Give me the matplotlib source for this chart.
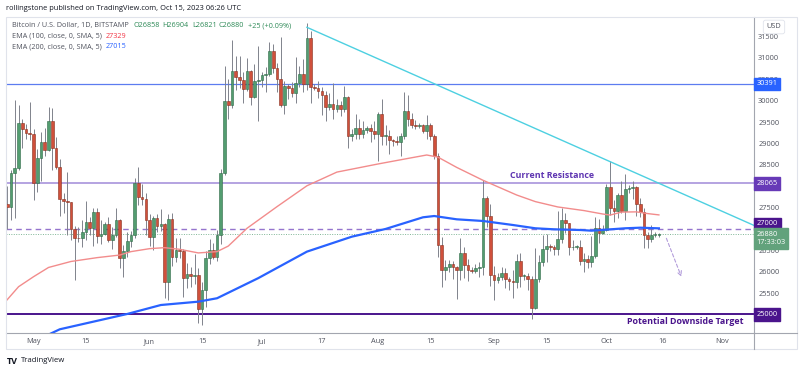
import numpy as np
import matplotlib
matplotlib.use("Agg")
import matplotlib.pyplot as plt
import matplotlib.dates as mdates
from matplotlib.lines import Line2D
from matplotlib.patches import Rectangle

# BTC/USD daily candles, 2023-04-24 .. 2023-10-15
first_day = "2023-04-24"

opens = [
    27590, 27510, 28300, 28420, 29470, 29340, 29250,
    # May
    29230, 28070, 28670, 29030, 28850, 29530, 28900, 28450, 27690, 27650, 27620, 26990, 26800, 26780, 26930, 27170,
    27030, 27400, 26830, 26890, 27120, 26750, 26850, 27220, 26330, 26480, 26720, 26860, 28080, 27740, 27700,
    # Jun
    27210, 26820, 27250, 27070, 27120, 25760, 27240, 26340, 26500, 26480, 25850, 25940, 25900, 25920, 25120,
    25580, 26330, 26510, 26340, 26850, 28310, 30000, 29890, 30690, 30550, 30480, 30270, 30690, 30080, 30450,
    # Jul
    30480, 30590, 30620, 31160, 30770, 30510, 29900, 30350, 30290, 30170, 30410, 30620, 30390, 31470, 30320, 30290,
    30230, 30140, 29860, 29920, 29800, 29910, 29800, 30080, 29180, 29230, 29350, 29210, 29310, 29350, 29280,
    # Aug
    29230, 29700, 29180, 29180, 29070, 29050, 29040, 29180, 29770, 29570, 29430, 29400, 29420, 29300, 29420, 29170,
    28700, 26630, 26050, 26100, 26190, 26120, 26040, 26430, 26160, 26050, 26010, 26090, 26100, 27720, 27300,
    # Sep
    25930, 25800, 25870, 25970, 25830, 25780, 25750, 26240, 25900, 25900, 25840, 25160, 25840, 26230, 26530,
    26600, 26570, 26530, 26760, 27210, 27130, 26570, 26580, 26580, 26250, 26300, 26220, 26360, 27030, 26910,
    # Oct
    26970, 27990, 27500, 27430, 27790, 27410, 27930, 27950, 27970, 27590, 27390, 26870, 26760, 26860, 26858,
]
highs = [
    28000, 28390, 30020, 29890, 29580, 29450, 29960,
    29330, 28880, 29270, 29370, 29850, 29840, 29160, 28640, 27830, 28330, 27640, 27070, 27050, 27200, 27660, 27290,
    27480, 27480, 27200, 27160, 27280, 27050, 27490, 27230, 26630, 26940, 26960, 28200, 28450, 28050, 27830,
    27340, 27300, 27340, 27460, 27130, 27360, 27370, 26800, 26790, 26540, 26200, 26100, 26420, 26090, 25750,
    26480, 26770, 26680, 26980, 28400, 30800, 30500, 31430, 31050, 31050, 30660, 31000, 30710, 30850, 31280,
    30660, 30790, 31380, 31330, 30890, 31500, 30450, 30380, 30440, 31030, 30800, 30970, 31820, 31640, 30390, 30450,
    30330, 30230, 30190, 30420, 30040, 29990, 30350, 30100, 29340, 29690, 29580, 29530, 29410, 29450, 29520,
    29730, 30050, 29420, 29320, 29110, 29170, 29250, 30200, 30130, 29720, 29540, 29480, 29460, 29670, 29480, 29230,
    28770, 26810, 26270, 26280, 26250, 26130, 26800, 26570, 26300, 26100, 26180, 26230, 28140, 27760, 27580,
    26130, 25970, 26110, 26080, 25880, 26030, 26420, 26440, 25940, 25980, 25900, 26550, 26400, 26850, 26880,
    26660, 26620, 27420, 27490, 27380, 27150, 26740, 26620, 26740, 26430, 26390, 26830, 27290, 27230, 27090,
    28050, 28600, 27680, 27840, 28120, 28290, 28030, 28120, 28000, 27720, 27480, 26930, 27090, 26940, 26904,
]
lows = [
    27000, 27200, 27250, 28380, 28900, 29100, 29090,
    27680, 27870, 28130, 28700, 28820, 28390, 28400, 27300, 27380, 26850, 26750, 25810, 26700, 26580, 26750, 26870,
    26600, 26670, 26650, 26860, 26690, 26540, 26810, 26080, 25870, 26340, 26570, 26780, 27550, 27560, 26850,
    26610, 26510, 26930, 26950, 25390, 25350, 26130, 26220, 26320, 25400, 25620, 25650, 25720, 24800, 24750,
    25170, 26180, 26290, 26250, 26650, 28270, 29580, 29820, 30250, 30300, 29940, 30230, 29890, 30060, 29520,
    30330, 30200, 30570, 30640, 30200, 29860, 29700, 30050, 30080, 29950, 30310, 30200, 30250, 29940, 30250, 30070,
    29660, 29530, 29780, 29570, 29740, 29650, 29740, 28900, 29060, 29110, 29100, 29120, 29250, 29030, 29110,
    28580, 28960, 28970, 28760, 28950, 28970, 28700, 29110, 29400, 29350, 29340, 29360, 29250, 29100, 29080, 28640,
    26350, 25650, 25800, 25990, 25820, 25370, 25800, 25860, 25780, 25980, 25970, 25880, 25920, 27040, 25660,
    25350, 25730, 25810, 25610, 25580, 25380, 25620, 25650, 25810, 25580, 24900, 25130, 25760, 26130, 26230,
    26480, 26400, 26390, 26680, 26900, 26380, 26500, 26520, 26150, 25990, 26090, 26110, 26330, 26670, 26890,
    26950, 27320, 27170, 27250, 27380, 27200, 27850, 27700, 27300, 27290, 26560, 26560, 26700, 26820, 26821,
]
closes = [
    27510, 28300, 28420, 29470, 29340, 29250, 29230,
    28070, 28670, 29030, 28850, 29530, 28900, 28450, 27690, 27650, 27620, 26990, 26800, 26780, 26930, 27170, 27030,
    27400, 26830, 26890, 27120, 26750, 26850, 27220, 26330, 26480, 26720, 26860, 28080, 27740, 27700, 27210,
    26820, 27250, 27070, 27120, 25760, 27240, 26340, 26500, 26480, 25850, 25940, 25900, 25920, 25120, 25580,
    26330, 26510, 26340, 26850, 28310, 30000, 29890, 30690, 30550, 30480, 30270, 30690, 30080, 30450, 30480,
    30590, 30620, 31160, 30770, 30510, 29900, 30350, 30290, 30170, 30410, 30620, 30390, 31470, 30320, 30290, 30230,
    30140, 29860, 29920, 29800, 29910, 29800, 30080, 29180, 29230, 29350, 29210, 29310, 29350, 29280, 29230,
    29700, 29180, 29180, 29070, 29050, 29040, 29180, 29770, 29570, 29430, 29400, 29420, 29300, 29420, 29170, 28700,
    26630, 26050, 26100, 26190, 26120, 26040, 26430, 26160, 26050, 26010, 26090, 26100, 27720, 27300, 25930,
    25800, 25870, 25970, 25830, 25780, 25750, 26240, 25900, 25900, 25840, 25160, 25840, 26230, 26530, 26600,
    26570, 26530, 26760, 27210, 27130, 26570, 26580, 26580, 26250, 26300, 26220, 26360, 27030, 26910, 26970,
    27990, 27500, 27430, 27790, 27410, 27930, 27950, 27970, 27590, 27390, 26870, 26760, 26860, 26860, 26880,
]

# moving averages (EMA 100 red, EMA 200 blue), sampled off the chart
ma100_dates = ["2023-04-23", "2023-04-27", "2023-05-01", "2023-05-05", "2023-05-11", "2023-05-18", "2023-05-24",
               "2023-05-27", "2023-06-01", "2023-06-05", "2023-06-09", "2023-06-14", "2023-06-19", "2023-06-22",
               "2023-06-27", "2023-07-05", "2023-07-13", "2023-07-21", "2023-08-01", "2023-08-09", "2023-08-14",
               "2023-08-17", "2023-08-22", "2023-08-29", "2023-09-07", "2023-09-12", "2023-09-18", "2023-09-25",
               "2023-09-30", "2023-10-02", "2023-10-05", "2023-10-09", "2023-10-12", "2023-10-15"]
ma100_vals = [25250, 25650, 25884, 26100, 26240, 26330, 26390,
              26470, 26540, 26563, 26525, 26440, 26470, 26600,
              27016, 27521, 28010, 28330, 28520, 28650, 28730,
              28680, 28440, 28140, 27795, 27640, 27515, 27430,
              27350, 27325, 27395, 27400, 27360, 27329]

ma200_dates = ["2023-05-05", "2023-05-08", "2023-05-26", "2023-06-04", "2023-06-14", "2023-06-19", "2023-06-30",
               "2023-07-13", "2023-07-25", "2023-08-03", "2023-08-13", "2023-08-16", "2023-08-22", "2023-08-29",
               "2023-09-06", "2023-09-12", "2023-09-17", "2023-09-24", "2023-09-27", "2023-10-06", "2023-10-10",
               "2023-10-15"]
ma200_vals = [24530, 24654, 25012, 25222, 25300, 25380, 25850,
              26470, 26820, 27000, 27273, 27303, 27226, 27187,
              27093, 27016, 26992, 26976, 26960, 27016, 27030,
              27015]

# drawn levels / annotations
level_blue = 30391
level_resist = 28065
level_target = 25000
level_dashed = 27000
last_price = 26880
trend_dates = ["2023-07-13", "2023-11-10"]
trend_prices = [31716, 27060]
arrow_dates = ["2023-10-17", "2023-10-21"]
arrow_prices = [26782, 25884]

tick_dates = ["2023-05-01", "2023-05-15", "2023-06-01", "2023-06-15", "2023-07-01", "2023-07-17", "2023-08-01",
              "2023-08-15", "2023-09-01", "2023-09-15", "2023-10-01", "2023-10-16", "2023-11-01"]
tick_labels = ["May", "15", "Jun", "15", "Jul", "17", "Aug", "15", "Sep", "15", "Oct", "16", "Nov"]
# 25000 / 27000 / 28000 sit under the price tags, so the scale shows only these
price_ticks = [25500, 26000, 26500, 27500, 28500, 29000, 29500, 30000, 30500, 31000, 31500]


def dnum(d):
    return mdates.date2num(np.array(d, dtype="datetime64[D]"))


plt.rcParams['font.family'] = ['Open Sans', 'DejaVu Sans']
W, H = 800, 372
fig = plt.figure(figsize=(W / 100, H / 100), dpi=100)


def fx(px):
    return px / W


def fy(py):
    return 1 - py / H


ax = fig.add_axes([fx(6), fy(332.5), fx(748), 315.5 / H])

o = np.array(opens, float)
h = np.array(highs, float)
l = np.array(lows, float)
c = np.array(closes, float)
start = np.datetime64(first_day)
xs = dnum(np.arange(start, start + len(c)))

up = c >= o
body_col = np.where(up, '#539d70', '#d0503b')
edge_col = np.where(up, '#2f6a46', '#86301f')
ax.vlines(xs, l, h, color='#80838c', lw=0.7, zorder=3)
ax.bar(xs, np.maximum(np.abs(c - o), 14), bottom=np.minimum(o, c), width=0.72,
       color=body_col, edgecolor=edge_col, linewidth=0.4, zorder=4)

# horizontal levels
ax.axhline(level_blue, color='#5c7cf0', lw=0.9, zorder=2)
ax.axhline(level_resist, color='#a08ad8', lw=1.1, zorder=2)
ax.axhline(level_target, color='#4a148c', lw=1.4, zorder=2)
ax.axhline(level_dashed, color='#9575cd', lw=1.0, ls=(0, (4, 3)), zorder=2)
ax.axhline(last_price, color='#7fb595', lw=0.7, ls=(0, (1, 1.5)), zorder=2)

# moving averages
ax.plot(dnum(ma100_dates), ma100_vals, color='#f28c8c', lw=1.0, zorder=5)
ax.plot(dnum(ma200_dates), ma200_vals, color='#2962ff', lw=1.6, zorder=5)

# falling trend line
ax.plot(dnum(trend_dates), trend_prices, color='#4dd0e1', lw=1.0, zorder=5)

# projected move arrow
ax.annotate("", xy=(dnum(arrow_dates[1]), arrow_prices[1]),
            xytext=(dnum(arrow_dates[0]), arrow_prices[0]),
            arrowprops=dict(arrowstyle='->', color='#b39ddb', lw=0.8,
                            linestyle=(0, (3, 2)), shrinkA=0, shrinkB=0, mutation_scale=8),
            zorder=6)

x0 = dnum("2023-05-01")
ax.set_xlim(x0 - 7.36, x0 + 192.4)
ax.set_ylim(24579, 31957)

ax.set_xticks(dnum(tick_dates))
ax.set_xticklabels(tick_labels)
ax.yaxis.tick_right()
ax.set_yticks(price_ticks)
ax.set_yticklabels([str(p) for p in price_ticks])
ax.tick_params(axis='both', length=0, labelsize=5.3, labelcolor='#50535e')
ax.tick_params(axis='x', pad=4)
ax.tick_params(axis='y', pad=3)
for s in ['top', 'left']:
    ax.spines[s].set_visible(False)
for s in ['bottom', 'right']:
    ax.spines[s].set_color('#a3a6af')
    ax.spines[s].set_linewidth(0.8)


def price_tag(y, text, color, dy=0.0, va='center'):
    ax.annotate(text, xy=(1, y), xycoords=ax.get_yaxis_transform(),
                xytext=(2.0, dy), textcoords='offset points', ha='left', va=va,
                fontsize=5.3, color='white', linespacing=1.25,
                bbox=dict(boxstyle='square,pad=0.35', fc=color, ec=color),
                annotation_clip=False, zorder=10)


price_tag(level_blue, "30391", '#2962ff')
price_tag(level_resist, "28065", '#673ab7')
price_tag(level_dashed, "27000", '#4a148c', dy=3.8)
price_tag(last_price, "26880\n17:33:03", '#62a27c', dy=2.2, va='top')
price_tag(level_target, "25000", '#4a148c')

# level captions
fig.text(fx(552), fy(175), "Current Resistance", color='#5e35b1', fontsize=6.4,
         fontweight='bold', ha='center', va='center')
fig.text(fx(685), fy(322), "Potential Downside Target", color='#4a148c', fontsize=6.4,
         fontweight='bold', ha='center', va='center')

# legend lines
fig.text(fx(12), fy(25.7), "Bitcoin / U.S. Dollar, 1D, BITSTAMP", color='#50535e', fontsize=5.2, va='center')
ohlc_items = [(133, "O26858"), (162, "H26904"), (192, "L26821"), (218, "C26880"), (248, "+25 (+0.09%)")]
for px, txt in ohlc_items:
    fig.text(fx(px), fy(25.7), txt, color='#2e8a57', fontsize=5.2, va='center')
fig.text(fx(12), fy(36), "EMA (100, close, 0, SMA, 5)", color='#50535e', fontsize=5.2, va='center')
fig.text(fx(106), fy(36), "27329", color='#f23645', fontsize=5.2, va='center')
fig.text(fx(12), fy(46.7), "EMA (200, close, 0, SMA, 5)", color='#50535e', fontsize=5.2, va='center')
fig.text(fx(106), fy(46.7), "27015", color='#2962ff', fontsize=5.2, va='center')

# header and footer
fig.text(fx(6), fy(8), "rollingstone published on TradingView.com, Oct 15, 2023 06:26 UTC",
         color='#131722', fontsize=5.4, va='center')
fig.text(fx(7), fy(361), "TV", color='#131722', fontsize=6.5, fontweight='bold', va='center')
fig.text(fx(21), fy(361), "TradingView", color='#131722', fontsize=5.6, va='center')

# chart frame, price-scale box and axis separators
fig.patches.append(Rectangle((fx(6), fy(349)), fx(791), (349 - 17) / H, transform=fig.transFigure,
                             fill=False, edgecolor='#e0e3eb', lw=0.8))
fig.lines.append(Line2D([fx(754), fx(797)], [fy(332.5), fy(332.5)], transform=fig.transFigure,
                        color='#a3a6af', lw=0.8))
fig.lines.append(Line2D([fx(754), fx(754)], [fy(332.5), fy(349)], transform=fig.transFigure,
                        color='#a3a6af', lw=0.8))
fig.text(fx(774), fy(27), "USD", color='#50535e', fontsize=5.3, ha='center', va='center',
         bbox=dict(boxstyle='round,pad=0.45,rounding_size=0.3', fc='white', ec='#e0e3eb', lw=0.6))

fig.savefig("out.png", dpi=100, facecolor='white')
